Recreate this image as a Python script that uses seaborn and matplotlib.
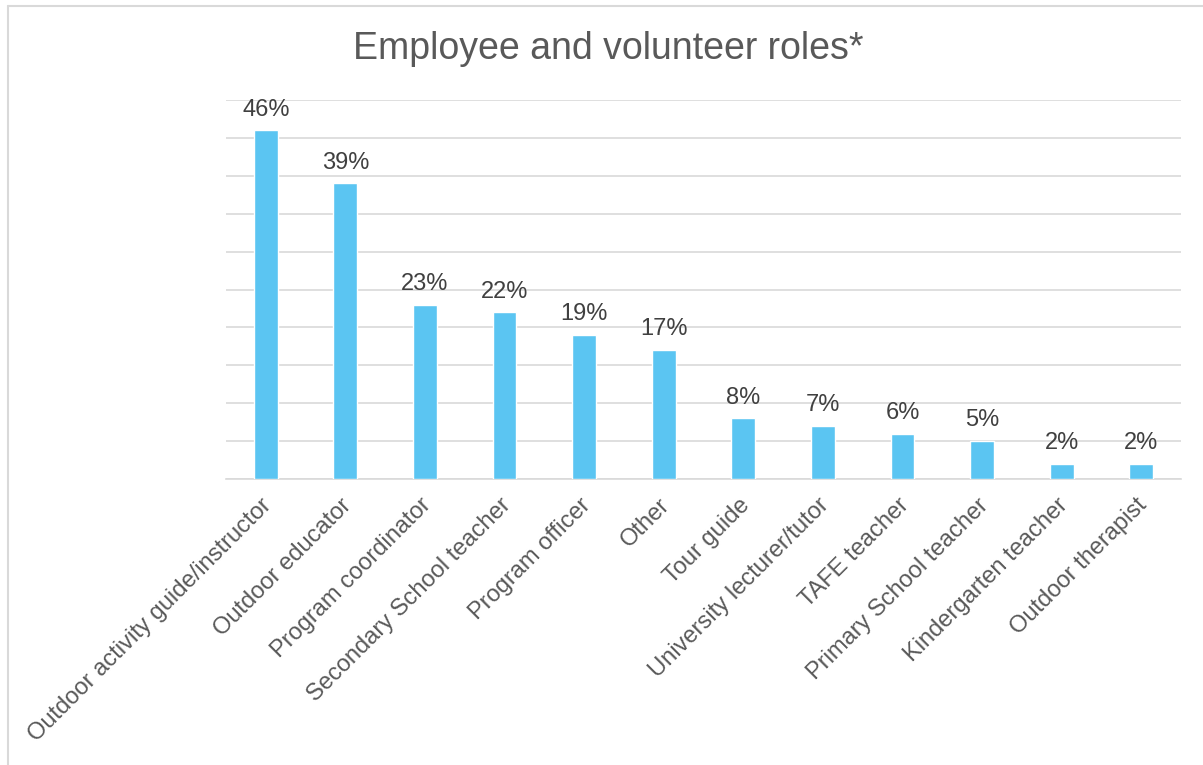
import matplotlib
matplotlib.use("Agg")
import matplotlib.pyplot as plt
from matplotlib.lines import Line2D
from matplotlib.transforms import ScaledTranslation
import seaborn as sns
import pandas as pd

roles = [
    "Outdoor activity guide/instructor",
    "Outdoor educator",
    "Program coordinator",
    "Secondary School teacher",
    "Program officer",
    "Other",
    "Tour guide",
    "University lecturer/tutor",
    "TAFE teacher",
    "Primary School teacher",
    "Kindergarten teacher",
    "Outdoor therapist",
]
shares = [46, 39, 23, 22, 19, 17, 8, 7, 6, 5, 2, 2]

df = pd.DataFrame({"role": roles, "share": shares})

sns.set_theme(style="white")
plt.rcParams["font.family"] = ["Liberation Sans", "DejaVu Sans"]

W, H = 1203, 765
fig = plt.figure(figsize=(W / 100, H / 100), dpi=100)
ax = fig.add_axes([226 / W, 1 - 479 / H, (1181 - 226) / W, (479 - 100) / H])

sns.barplot(data=df, x="role", y="share", color="#5BC5F2", saturation=1,
            width=0.30, ax=ax, zorder=3)

ax.set_ylim(0, 50)
ax.set_yticks(range(0, 51, 5))
ax.yaxis.grid(True, color="#D9D9D9", linewidth=1.2, zorder=0)
ax.set_axisbelow(True)
ax.tick_params(axis="y", left=False, labelleft=False)
ax.tick_params(axis="x", bottom=False, pad=5)
for s in ["top", "right", "left"]:
    ax.spines[s].set_visible(False)
ax.spines["bottom"].set_color("#D9D9D9")
ax.spines["bottom"].set_linewidth(1.2)
ax.set_xlabel("")
ax.set_ylabel("")

shift = ScaledTranslation(-5 / 100, 0, fig.dpi_scale_trans)
for lbl in ax.get_xticklabels():
    lbl.set_rotation(45)
    lbl.set_ha("right")
    lbl.set_rotation_mode("anchor")
    lbl.set_fontsize(17)
    lbl.set_color("#595959")
    lbl.set_transform(lbl.get_transform() + shift)

ax.bar_label(ax.containers[0], labels=[f"{v}%" for v in shares], padding=7,
             fontsize=17, color="#404040")

fig.text(608 / W, 1 - 49 / H, "Employee and volunteer roles*", ha="center",
         va="center", fontsize=27, color="#595959")

# thin frame around the chart area
fig.add_artist(Line2D([7.5 / W, 7.5 / W], [0, 1 - 5.5 / H], transform=fig.transFigure,
                      color="#D9D9D9", linewidth=1.5))
fig.add_artist(Line2D([7.5 / W, 1], [1 - 5.5 / H, 1 - 5.5 / H], transform=fig.transFigure,
                      color="#D9D9D9", linewidth=1.5))

fig.savefig("out.png", dpi=100, facecolor="white")
